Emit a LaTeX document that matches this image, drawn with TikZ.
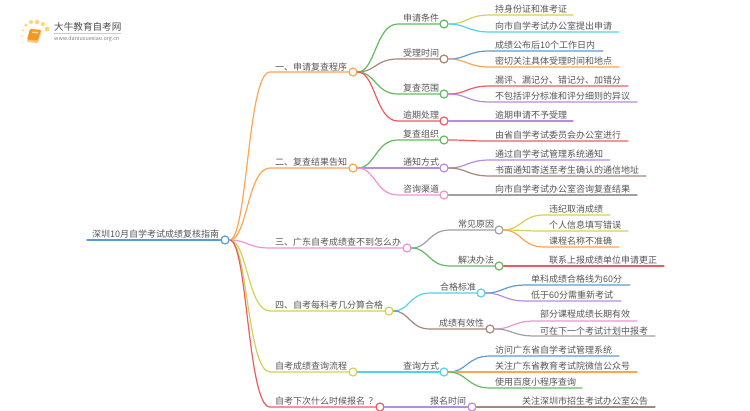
\documentclass[tikz,border=0pt]{standalone}
\usepackage{fontspec}
\setmainfont{Noto Sans CJK SC}
\usetikzlibrary{calc}
\definecolor{cblue}{HTML}{5B9BD5}
\definecolor{corange}{HTML}{FFA552}
\definecolor{cgreen}{HTML}{62BB5E}
\definecolor{cbrown}{HTML}{A98478}
\definecolor{cred}{HTML}{EE5A5F}
\definecolor{colive}{HTML}{D5CF55}
\definecolor{ccyan}{HTML}{4FD3E6}
\definecolor{cpurple}{HTML}{B78BDD}
\definecolor{cpink}{HTML}{F291D6}
\definecolor{cgray}{HTML}{A0A0A0}
\definecolor{ctext}{HTML}{555555}
\definecolor{csun}{HTML}{FFD56E}
\definecolor{cbook}{HTML}{F39A1E}
\tikzset{
    dotnode/.style={circle, draw=#1, fill=white, line width=1.2pt, minimum size=8pt, inner sep=0pt},
    txt/.style={anchor=base west, inner sep=0pt, text=ctext, font=\fontsize{9}{9}\selectfont},
    link/.style={line width=1.2pt, line cap=round},
    sun/.style={circle, fill=#1, draw=none, inner sep=0pt}
}
\newcommand{\branch}[4]{
    \coordinate (knee) at (#4,0 |- #3);
    \coordinate (mid) at ($(#2)!0.5!(knee)$);
    \draw[link, #1] (#2) .. controls (mid |- #2) and (mid |- knee) .. (knee) -- (#3);
}
\begin{document}
\begin{tikzpicture}[x=1pt, y=-1pt]
        \useasboundingbox (0,0) rectangle (750,410);

        \node[sun=csun, minimum size=3.5pt] (s1) at (26,25) {};
        \node[sun=csun, minimum size=4pt] (s2) at (31,22) {};
        \node[sun=csun, minimum size=4.5pt] (s3) at (37,22) {};
        \node[sun=csun, minimum size=4pt] (s4) at (43,24) {};
        \node[sun=csun, minimum size=5pt] (s5) at (47,29) {};
        \node[sun=csun!60!white, minimum size=3pt] (s6) at (23,30) {};
        \node[sun=csun!50!white, minimum size=3pt] (s7) at (22,36) {};
        \node[sun=csun!40!white, minimum size=2.5pt] (s8) at (23,42) {};
        \fill[corange!70!white, rounded corners=1pt] (30,29) -- (42,30) -- (38,43) -- (27,42) -- cycle;
        \fill[cbook, rounded corners=1pt] (30,29) -- (41,30) -- (37.5,40.5) -- (27,39.5) -- cycle;
        \fill[white!65!cbook] (32.5,31.5) -- (38.5,32) -- (38,33.5) -- (32,33) -- cycle;
        \node[txt, font=\fontsize{9.6}{9.6}\selectfont, text=black!70] (brand) at (54,30.5) {大牛教育自考网};
        \node[txt, font=\fontsize{5.4}{5.4}\selectfont, text=black!50] (site) at (54,40.5) {www.daniuxuexiao.org.cn};
        \draw[black!20, line width=0.5pt] (brand.base west) ++(0,2.5) -- ++(67,0);

        \node[dotnode=cblue] (root) at (225,240) {};
        \node[txt] (roottxt) at (92,237) {深圳10月自学考试成绩复核指南};
        \coordinate (rootend) at (87,240);
        \draw[link, cblue] (rootend) -- (root);

        \node[dotnode=corange] (one) at (353,72) {};
        \node[dotnode=corange] (two) at (353,168) {};
        \node[dotnode=cpink] (three) at (407,248) {};
        \node[dotnode=colive] (four) at (389,311) {};
        \node[dotnode=colive] (five) at (353,372) {};
        \node[dotnode=cred] (six) at (380,407) {};
        \node[txt] (onetxt) at (275,70) {一、申请复查程序};
        \node[txt] (twotxt) at (275,165.7) {二、复查结果告知};
        \node[txt] (threetxt) at (275,245.7) {三、广东自考成绩查不到怎么办};
        \node[txt] (fourtxt) at (275,308) {四、自考每科考几分算合格};
        \node[txt] (fivetxt) at (275,369) {自考成绩查询流程};
        \node[txt] (sixtxt) at (275,404) {自考下次什么时候报名\hspace{3.5pt}？};
        \branch{corange}{root}{one}{270}
        \branch{corange}{root}{two}{270}
        \branch{cpink}{root}{three}{270}
        \branch{colive}{root}{four}{270}
        \branch{colive}{root}{five}{270}
        \branch{cred}{root}{six}{270}

        \node[dotnode=cgreen] (apply) at (444,24) {};
        \node[dotnode=cbrown] (accept) at (444,59) {};
        \node[dotnode=cgreen] (scope) at (444,94) {};
        \node[dotnode=cred] (late) at (444,121) {};
        \node[dotnode=cgreen] (org) at (444,140) {};
        \node[dotnode=cpurple] (notify) at (444,168) {};
        \node[dotnode=cpink] (consult) at (444,195) {};
        \node[dotnode=cgray] (reason) at (499,230) {};
        \node[dotnode=cgreen] (solve) at (499,266) {};
        \node[dotnode=ccyan] (pass) at (481,293) {};
        \node[dotnode=cbrown] (valid) at (490,329) {};
        \node[dotnode=ccyan] (query) at (444,372) {};
        \node[dotnode=cpurple] (signup) at (472,407) {};
        \node[txt] (applytxt) at (403,21) {申请条件};
        \node[txt] (accepttxt) at (403,56) {受理时间};
        \node[txt] (scopetxt) at (403,91) {复查范围};
        \node[txt] (latetxt) at (403,118) {逾期处理};
        \node[txt] (orgtxt) at (403,137.7) {复查组织};
        \node[txt] (notifytxt) at (403,165) {通知方式};
        \node[txt] (consulttxt) at (403,192) {咨询渠道};
        \node[txt] (reasontxt) at (458,227.7) {常见原因};
        \node[txt] (solvetxt) at (458,263) {解决办法};
        \node[txt] (passtxt) at (440,290.7) {合格标准};
        \node[txt] (validtxt) at (439,326) {成绩有效性};
        \node[txt] (querytxt) at (403,369) {查询方式};
        \node[txt] (signuptxt) at (430,404) {报名时间};
        \branch{cgreen}{one}{apply}{398}
        \branch{cbrown}{one}{accept}{398}
        \branch{cgreen}{one}{scope}{398}
        \branch{cred}{one}{late}{398}
        \branch{cgreen}{two}{org}{398}
        \branch{cpurple}{two}{notify}{398}
        \branch{cpink}{two}{consult}{398}
        \branch{cgray}{three}{reason}{450}
        \branch{cgreen}{three}{solve}{450}
        \branch{ccyan}{four}{pass}{430}
        \branch{cbrown}{four}{valid}{430}
        \branch{ccyan}{five}{query}{398}
        \branch{cpurple}{six}{signup}{422}

        \coordinate (a1) at (573,15);
        \coordinate (a2) at (619,32);
        \coordinate (b1) at (603,51);
        \coordinate (b2) at (619,67);
        \coordinate (c1) at (628,86);
        \coordinate (c2) at (637,102);
        \coordinate (d1) at (573,121);
        \coordinate (e1) at (628,141);
        \coordinate (f1) at (610,160);
        \coordinate (f2) at (646,176);
        \coordinate (g1) at (637,195);
        \coordinate (h1) at (610,215);
        \coordinate (h2) at (628,231);
        \coordinate (h3) at (619,247);
        \coordinate (i1) at (664,266);
        \coordinate (j1) at (630,285);
        \coordinate (j2) at (621,301);
        \coordinate (k1) at (637,321);
        \coordinate (k2) at (655,336);
        \coordinate (l1) at (619,356);
        \coordinate (l2) at (637,372);
        \coordinate (l3) at (582,388);
        \coordinate (m1) at (655,407);
        \node[txt] (a1txt) at (495,12.7) {持身份证和准考证};
        \node[txt] (a2txt) at (495,29) {向市自学考试办公室提出申请};
        \node[txt] (b1txt) at (495,48) {成绩公布后10个工作日内};
        \node[txt] (b2txt) at (495,64) {密切关注具体受理时间和地点};
        \node[txt] (c1txt) at (495,83) {漏评、漏记分、错记分、加错分};
        \node[txt] (c2txt) at (495,99) {不包括评分标准和评分细则的异议};
        \node[txt] (d1txt) at (495,118) {逾期申请不予受理};
        \node[txt] (e1txt) at (495,138) {由省自学考试委员会办公室进行};
        \node[txt] (f1txt) at (495,157) {通过自学考试管理系统通知};
        \node[txt] (f2txt) at (495,173) {书面通知寄送至考生确认的通信地址};
        \node[txt] (g1txt) at (495,192) {向市自学考试办公室咨询复查结果};
        \node[txt] (h1txt) at (549,212) {违纪取消成绩};
        \node[txt] (h2txt) at (549,228) {个人信息填写错误};
        \node[txt] (h3txt) at (549,244) {课程名称不准确};
        \node[txt] (i1txt) at (549,263) {联系上报成绩单位申请更正};
        \node[txt] (j1txt) at (531,282) {单科成绩合格线为60分};
        \node[txt] (j2txt) at (531,298) {低于60分需重新考试};
        \node[txt] (k1txt) at (540,317.5) {部分课程成绩长期有效};
        \node[txt] (k2txt) at (540,334) {可在下一个考试计划中报考};
        \node[txt] (l1txt) at (495,353) {访问广东省自学考试管理系统};
        \node[txt] (l2txt) at (495,369) {关注广东省教育考试院微信公众号};
        \node[txt] (l3txt) at (495,385) {使用百度小程序查询};
        \node[txt] (m1txt) at (522,404) {关注深圳市招生考试办公室公告};
        \branch{colive}{apply}{a1}{490}
        \branch{ccyan}{apply}{a2}{490}
        \branch{cblue}{accept}{b1}{490}
        \branch{corange}{accept}{b2}{490}
        \branch{cred}{scope}{c1}{490}
        \branch{cpurple}{scope}{c2}{490}
        \branch{cpurple}{late}{d1}{490}
        \branch{cred}{org}{e1}{490}
        \branch{cpurple}{notify}{f1}{490}
        \branch{cbrown}{notify}{f2}{490}
        \branch{cgray}{consult}{g1}{490}
        \branch{colive}{reason}{h1}{544}
        \branch{colive}{reason}{h2}{544}
        \branch{corange}{reason}{h3}{544}
        \branch{cred}{solve}{i1}{544}
        \branch{cblue}{pass}{j1}{526}
        \branch{cpurple}{pass}{j2}{526}
        \branch{cpink}{valid}{k1}{535}
        \branch{cgray}{valid}{k2}{535}
        \branch{cblue}{query}{l1}{490}
        \branch{corange}{query}{l2}{490}
        \branch{cgreen}{query}{l3}{490}
        \branch{cbrown}{signup}{m1}{517}
    \end{tikzpicture}
\end{document}
